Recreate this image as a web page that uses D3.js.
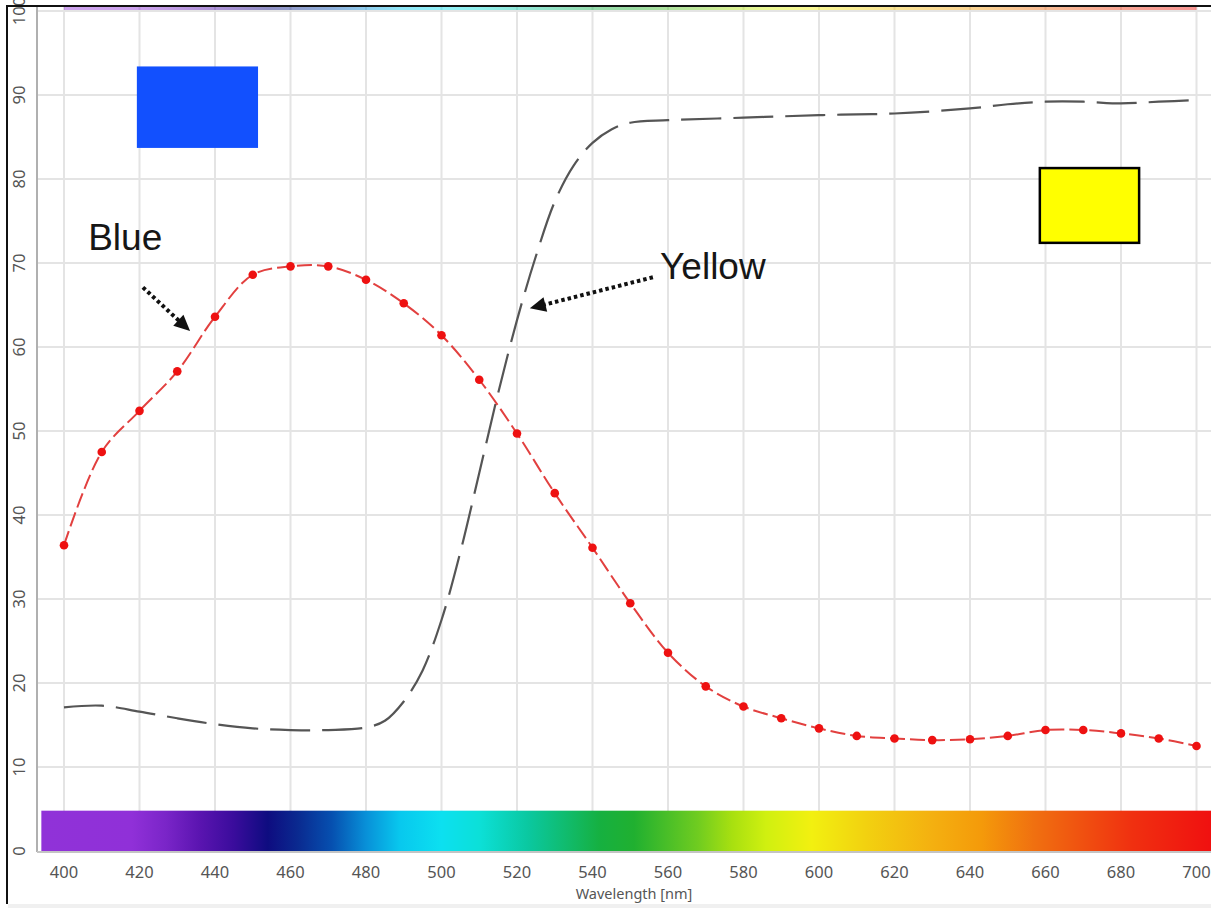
<!DOCTYPE html>
<html>
<head>
<meta charset="utf-8">
<script src="https://cdn.jsdelivr.net/npm/d3@7"></script>
<style>
  body { margin: 0; background: #fff; }
  svg { display: block; }
</style>
</head>
<body>
<svg id="chart" width="1211" height="908"></svg>
<script>
// Wavelength axis ticks (nm) and percent axis ticks
const wavelengthTicks = [400, 420, 440, 460, 480, 500, 520, 540, 560, 580, 600, 620, 640, 660, 680, 700];
const percentTicks = [0, 10, 20, 30, 40, 50, 60, 70, 80, 90, 100];

// Blue sample: measured every 10 nm
const blueWavelengths = [400, 410, 420, 430, 440, 450, 460, 470, 480, 490, 500, 510, 520, 530, 540, 550,
  560, 570, 580, 590, 600, 610, 620, 630, 640, 650, 660, 670, 680, 690, 700];
const blueValues = [36.4, 47.5, 52.4, 57.1, 63.6, 68.6, 69.6, 69.6, 68.0, 65.2, 61.4, 56.1, 49.7, 42.6, 36.1, 29.5,
  23.6, 19.6, 17.2, 15.8, 14.6, 13.7, 13.4, 13.2, 13.3, 13.7, 14.4, 14.4, 14.0, 13.4, 12.5];

// Yellow sample: continuous reflectance curve
const yellowWavelengths = [400, 410, 420, 430, 440, 450, 460, 470, 480, 485, 490, 495, 500, 505, 510, 515, 520,
  525, 530, 535, 540, 545, 550, 560, 580, 600, 620, 640, 650, 660, 670, 680, 690, 700];
const yellowValues = [17.1, 17.3, 16.6, 15.8, 15.1, 14.6, 14.4, 14.4, 14.7, 15.5, 17.8, 21.5, 27.5, 35.6, 45.0, 54.5, 63.2,
  70.8, 77.3, 81.6, 84.3, 85.9, 86.7, 87.0, 87.3, 87.6, 87.8, 88.4, 88.9, 89.2, 89.2, 89.0, 89.2, 89.4];

// Visible spectrum colour stops (nm -> colour)
const spectrumWavelengths = [394, 418, 427, 436, 445, 454, 462, 471, 480, 489, 500, 510, 523, 542, 551,
  568, 577, 586, 598, 613, 630, 643, 657, 670, 683, 704];
const spectrumColors = ["#9032d8", "#9030d8", "#7a25c8", "#5a14b0", "#3a0c9c", "#0e0c80", "#0a2a90", "#0650b0",
  "#0890d8", "#08c8ee", "#0ce0f0", "#0ce0d8", "#0ac8a0", "#16b040", "#20b030", "#70cc20", "#a8e010",
  "#d0f010", "#f2f010", "#f2d010", "#f4b010", "#f49a0a", "#f07010", "#f05010", "#f03010", "#f01010"];

// Colour swatches and callouts, in data coordinates [nm, %]
const swatches = [
  { name: "blue", x0: 419.3, x1: 451.4, y0: 93.4, y1: 83.7, fill: "#1250fe", stroke: "none" },
  { name: "yellow", x0: 658.5, x1: 684.8, y0: 81.3, y1: 72.4, fill: "#ffff00", stroke: "#000" }
];
const callouts = [
  { text: "Blue", tx: 406.4, ty: 71.5, from: [420.9, 67.1], to: [433.4, 61.9] },
  { text: "Yellow", tx: 557.9, ty: 68.1, from: [556.0, 68.3], to: [523.4, 64.6] }
];

const svg = d3.select("#chart");
const W = 1211, H = 908;

const x = d3.scaleLinear().domain([400, 700]).range([64, 1196.5]);
const y = d3.scaleLinear().domain([0, 100]).range([851, 11]);

const plotLeft = 37, plotTop = 6, plotBottom = 852;

// Gradient for the spectrum strips
const defs = svg.append("defs");
const grad = defs.append("linearGradient")
  .attr("id", "spectrum")
  .attr("gradientUnits", "userSpaceOnUse")
  .attr("x1", x(spectrumWavelengths[0])).attr("x2", x(spectrumWavelengths[spectrumWavelengths.length - 1]))
  .attr("y1", 0).attr("y2", 0);
const domainSpan = spectrumWavelengths[spectrumWavelengths.length - 1] - spectrumWavelengths[0];
spectrumWavelengths.forEach((w, i) => {
  grad.append("stop")
    .attr("offset", (w - spectrumWavelengths[0]) / domainSpan)
    .attr("stop-color", spectrumColors[i]);
});

const clip = defs.append("clipPath").attr("id", "plot-clip");
clip.append("rect").attr("x", plotLeft).attr("y", plotTop).attr("width", W - plotLeft).attr("height", plotBottom - plotTop);

// Grid
const grid = svg.append("g").attr("class", "grid");
grid.selectAll("line.v").data(wavelengthTicks).join("line")
  .attr("class", "v")
  .attr("x1", d => x(d)).attr("x2", d => x(d))
  .attr("y1", plotTop).attr("y2", plotBottom)
  .attr("stroke", "#e4e4e4").attr("stroke-width", 2);
grid.selectAll("line.h").data(percentTicks.filter(d => d > 0)).join("line")
  .attr("class", "h")
  .attr("x1", plotLeft).attr("x2", W)
  .attr("y1", d => y(d)).attr("y2", d => y(d))
  .attr("stroke", "#e4e4e4").attr("stroke-width", 2);

// Thin spectrum strip along the top edge
svg.append("rect")
  .attr("x", x(400)).attr("width", x(700) - x(400))
  .attr("y", plotTop + 1).attr("height", 3)
  .attr("fill", "url(#spectrum)").attr("opacity", 0.45);

// Spectrum band along the wavelength axis
svg.append("rect")
  .attr("x", x(spectrumWavelengths[0]))
  .attr("width", x(spectrumWavelengths[spectrumWavelengths.length - 1]) - x(spectrumWavelengths[0]))
  .attr("y", y(4.8)).attr("height", y(0) - y(4.8))
  .attr("fill", "url(#spectrum)");

// Axis lines
svg.append("line")
  .attr("x1", plotLeft).attr("x2", plotLeft).attr("y1", plotTop).attr("y2", plotBottom)
  .attr("stroke", "#b0b0b0").attr("stroke-width", 2);
svg.append("line")
  .attr("x1", plotLeft).attr("x2", W).attr("y1", plotBottom).attr("y2", plotBottom)
  .attr("stroke", "#c4c4c4").attr("stroke-width", 2);

// Tick labels
svg.append("g").selectAll("text").data(wavelengthTicks).join("text")
  .attr("x", d => x(d)).attr("y", 878)
  .attr("text-anchor", "middle")
  .attr("font-family", "'Noto Sans', sans-serif").attr("font-size", 16.5)
  .attr("fill", "#555")
  .text(d => d);

svg.append("g").selectAll("text").data(percentTicks).join("text")
  .attr("transform", d => `translate(25,${y(d)}) rotate(-90)`)
  .attr("text-anchor", "middle")
  .attr("font-family", "'Noto Sans', sans-serif").attr("font-size", 16.5)
  .attr("fill", "#555")
  .text(d => d);

svg.append("text")
  .attr("x", x(551)).attr("y", 899)
  .attr("text-anchor", "middle")
  .attr("font-family", "'Noto Sans', sans-serif").attr("font-size", 14.5)
  .attr("fill", "#555")
  .text("Wavelength [nm]");

// Data curves
const plot = svg.append("g").attr("clip-path", "url(#plot-clip)");

const yellowLine = d3.line()
  .x((d, i) => x(yellowWavelengths[i]))
  .y(d => y(d))
  .curve(d3.curveCatmullRom.alpha(0.5));
plot.append("path")
  .datum(yellowValues)
  .attr("d", yellowLine)
  .attr("fill", "none")
  .attr("stroke", "#555")
  .attr("stroke-width", 2.2)
  .attr("stroke-dasharray", "40,12");

const blueLine = d3.line()
  .x((d, i) => x(blueWavelengths[i]))
  .y(d => y(d))
  .curve(d3.curveCatmullRom.alpha(0.5));
plot.append("path")
  .datum(blueValues)
  .attr("d", blueLine)
  .attr("fill", "none")
  .attr("stroke", "#e2403f")
  .attr("stroke-width", 2)
  .attr("stroke-dasharray", "15,5");
plot.selectAll("circle.blue").data(blueValues).join("circle")
  .attr("class", "blue")
  .attr("cx", (d, i) => x(blueWavelengths[i]))
  .attr("cy", d => y(d))
  .attr("r", 4.3)
  .attr("fill", "#ee1111");

// Colour swatches
svg.selectAll("rect.swatch").data(swatches).join("rect")
  .attr("class", "swatch")
  .attr("x", d => x(d.x0)).attr("width", d => x(d.x1) - x(d.x0))
  .attr("y", d => y(d.y0)).attr("height", d => y(d.y1) - y(d.y0))
  .attr("fill", d => d.fill)
  .attr("stroke", d => d.stroke)
  .attr("stroke-width", 2.5);

// Callout labels with dotted arrows
const ann = svg.append("g");
callouts.forEach(c => {
  ann.append("text")
    .attr("x", x(c.tx)).attr("y", y(c.ty))
    .attr("font-family", "'Liberation Sans', Arial, sans-serif")
    .attr("font-size", 37)
    .attr("fill", "#161616")
    .text(c.text);

  const x0 = x(c.from[0]), y0 = y(c.from[1]);
  const x1 = x(c.to[0]), y1 = y(c.to[1]);
  const dx = x1 - x0, dy = y1 - y0;
  const len = Math.hypot(dx, dy);
  const ux = dx / len, uy = dy / len;
  const headLen = 16, headHalf = 7.5;
  const bx = x1 - ux * headLen, by = y1 - uy * headLen;

  ann.append("line")
    .attr("x1", x0).attr("y1", y0)
    .attr("x2", bx + ux * 2).attr("y2", by + uy * 2)
    .attr("stroke", "#111")
    .attr("stroke-width", 4)
    .attr("stroke-dasharray", "3.5,3");

  ann.append("polygon")
    .attr("points", [
      [x1, y1],
      [bx - uy * headHalf, by + ux * headHalf],
      [bx + uy * headHalf, by - ux * headHalf]
    ].map(p => p.join(",")).join(" "))
    .attr("fill", "#111");
});

// Figure frame
svg.append("line").attr("x1", 7).attr("x2", 7).attr("y1", 5).attr("y2", 904)
  .attr("stroke", "#111").attr("stroke-width", 2);
svg.append("line").attr("x1", 6).attr("x2", W).attr("y1", 6).attr("y2", 6)
  .attr("stroke", "#111").attr("stroke-width", 2);
svg.append("rect").attr("x", 8).attr("y", 904).attr("width", W - 8).attr("height", H - 904)
  .attr("fill", "#f0f0f0");
</script>
</body>
</html>
